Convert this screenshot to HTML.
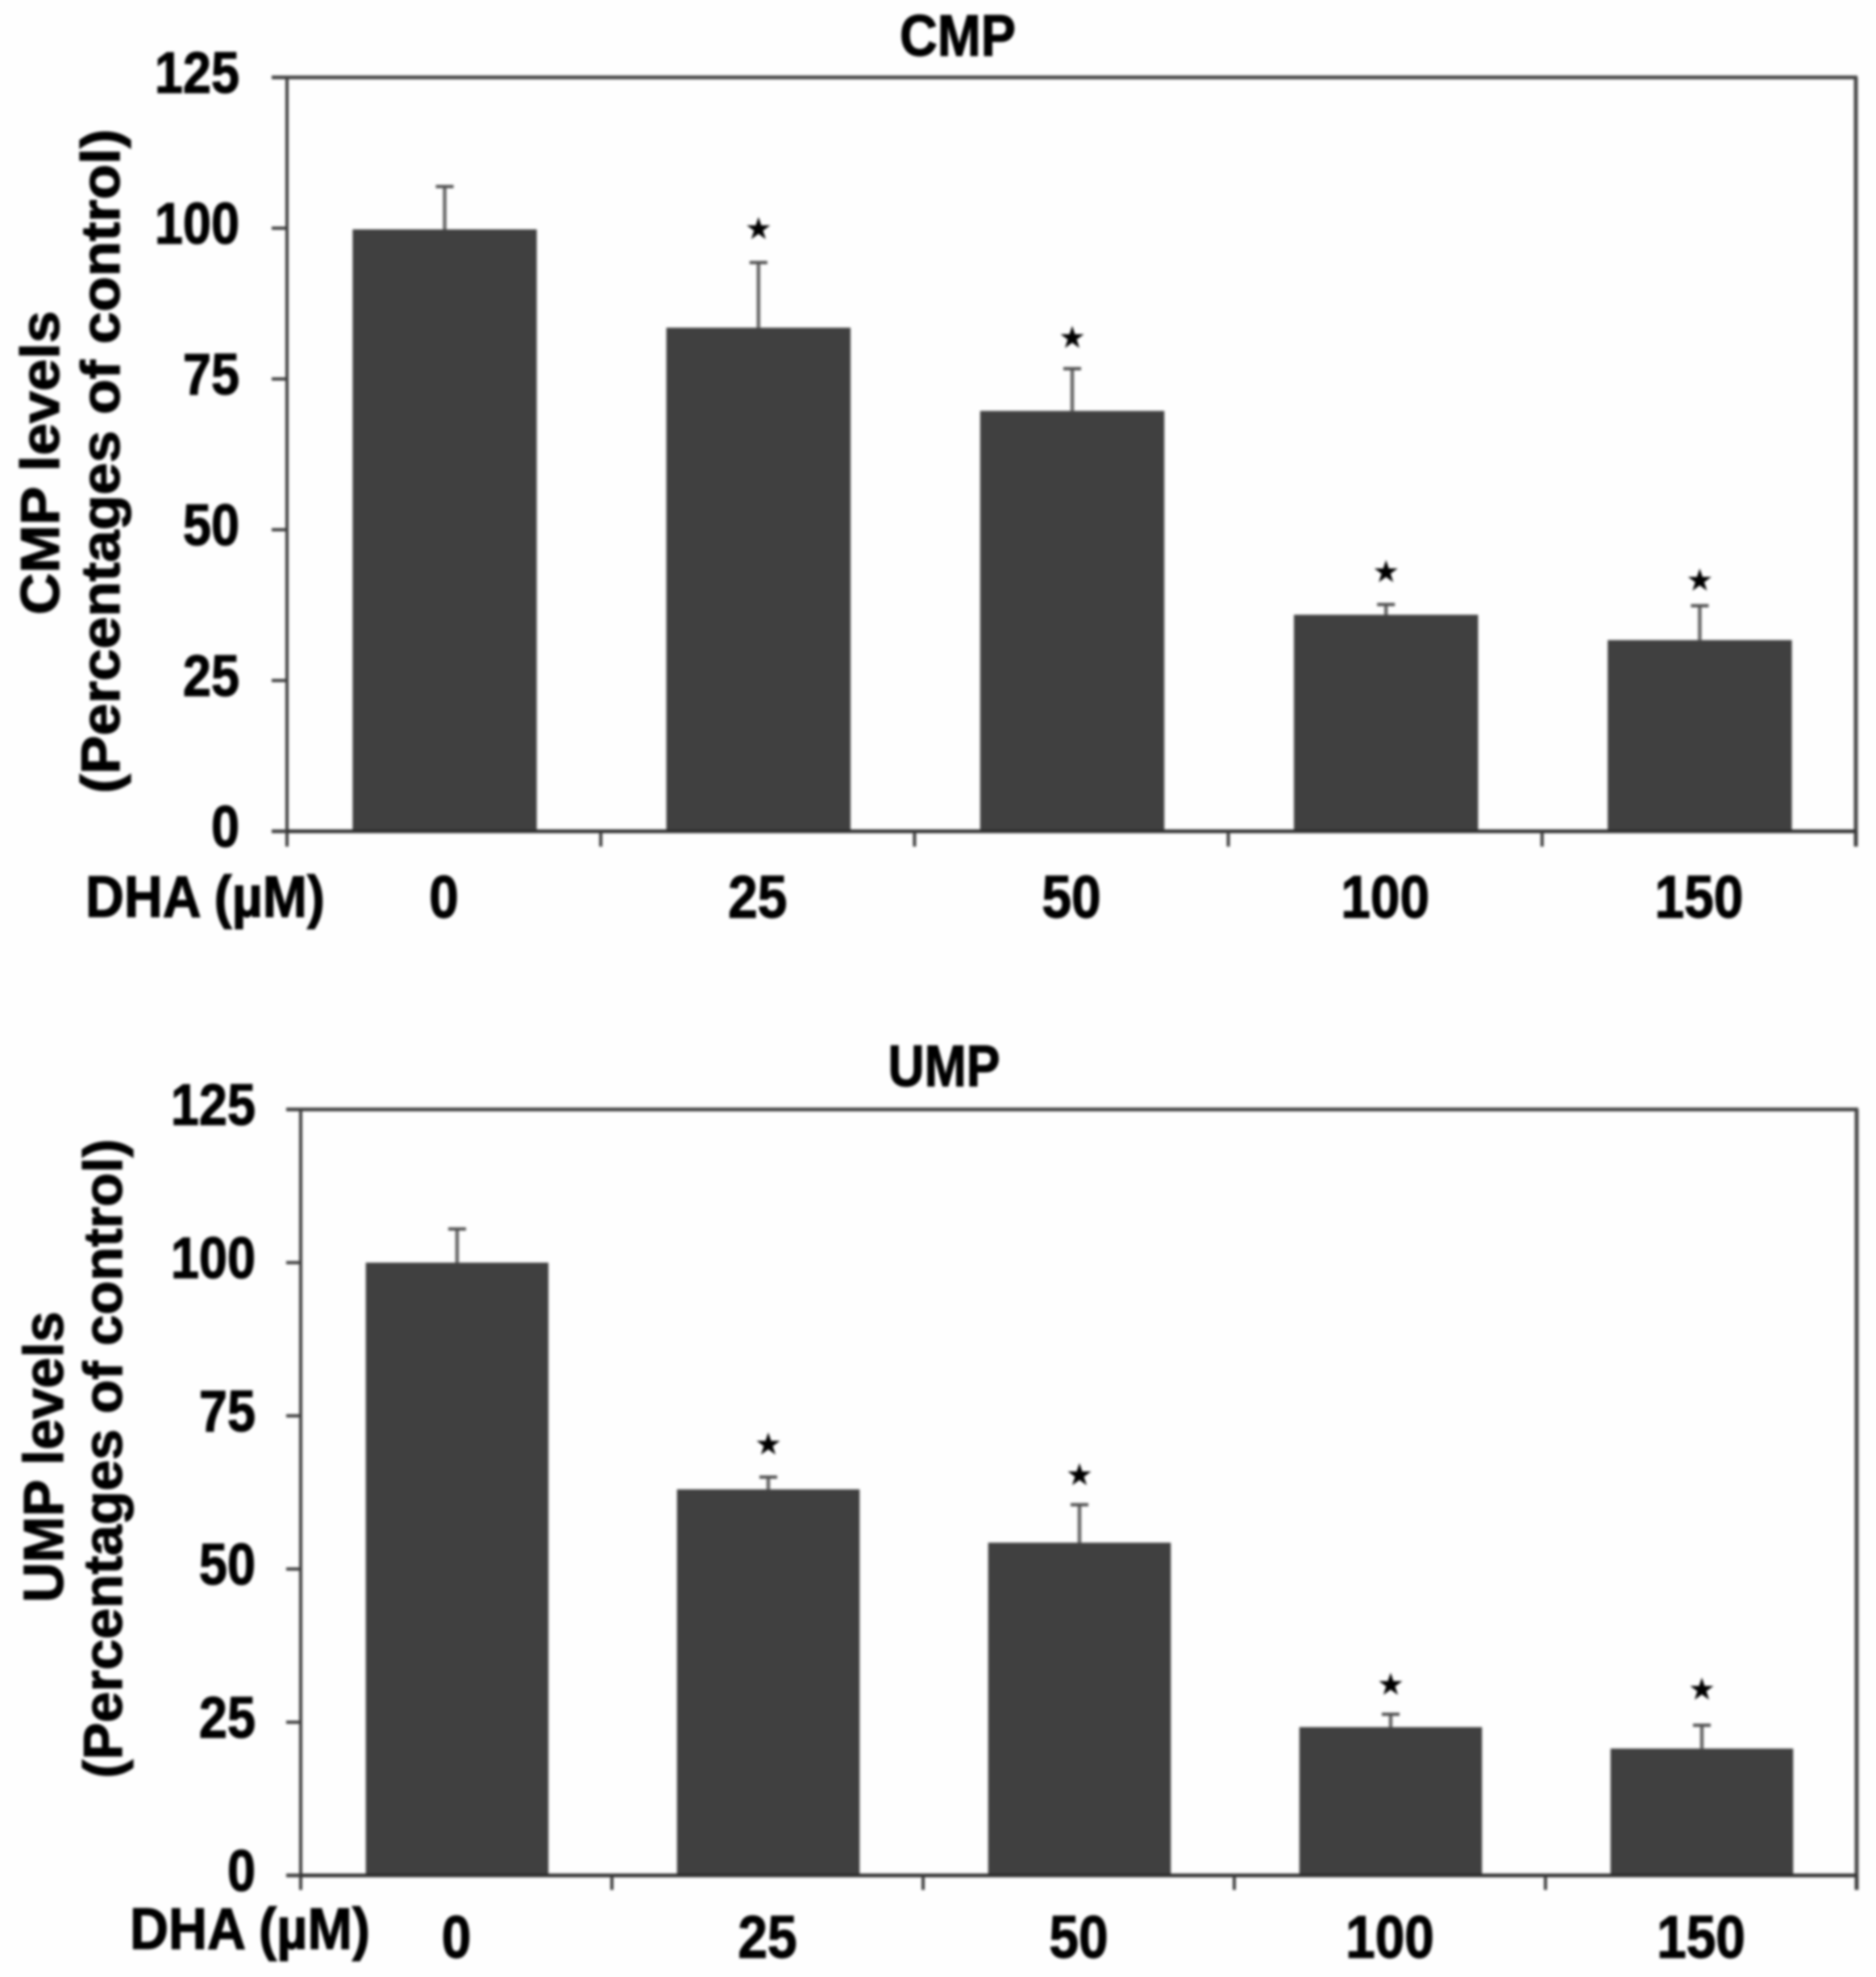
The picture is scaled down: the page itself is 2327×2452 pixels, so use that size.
<!DOCTYPE html>
<html lang="en">
<head>
<meta charset="utf-8">
<title>CMP and UMP levels after DHA treatment</title>
<style>
  html, body { margin: 0; padding: 0; background: #fefefe; }
  svg { display: block; }
  text { font-family: "Liberation Sans", sans-serif; font-weight: 700; fill: #000; stroke: #000; stroke-width: 1.2px; }
  .star { font-family: "DejaVu Sans", sans-serif; font-weight: 400; stroke-width: 1.5px; }
</style>
</head>
<body>
<svg id="figure" xmlns="http://www.w3.org/2000/svg" width="2327" height="2452" viewBox="0 0 2327 2452">
  <defs>
    <filter id="soften" filterUnits="userSpaceOnUse" x="0" y="0" width="2327" height="2452" color-interpolation-filters="sRGB">
      <feGaussianBlur stdDeviation="1.6"/>
    </filter>
  </defs>
  <rect x="0" y="0" width="2327" height="2452" fill="#fefefe"/>
  <g id="soft" filter="url(#soften)">
    <g id="cmp-chart">
      <text x="1188" y="69" font-size="72" text-anchor="middle" textLength="144" lengthAdjust="spacingAndGlyphs">CMP</text>
      <text transform="translate(73,574) rotate(-90)" font-size="68" text-anchor="middle" textLength="377" lengthAdjust="spacingAndGlyphs">CMP levels</text>
      <text transform="translate(148,572) rotate(-90)" font-size="68" text-anchor="middle" textLength="824" lengthAdjust="spacingAndGlyphs">(Percentages of control)</text>
      <text x="106" y="1137" font-size="72" textLength="297" lengthAdjust="spacingAndGlyphs">DHA (µM)</text>
    </g>
    <g id="ump-chart">
      <text x="1171" y="1347" font-size="72" text-anchor="middle" textLength="139" lengthAdjust="spacingAndGlyphs">UMP</text>
      <text transform="translate(78,1807) rotate(-90)" font-size="70" text-anchor="middle" textLength="361" lengthAdjust="spacingAndGlyphs">UMP levels</text>
      <text transform="translate(151,1809) rotate(-90)" font-size="68" text-anchor="middle" textLength="793" lengthAdjust="spacingAndGlyphs">(Percentages of control)</text>
      <text x="161" y="2417" font-size="72" textLength="298" lengthAdjust="spacingAndGlyphs">DHA (µM)</text>
    </g>
  </g>
</svg>
<script>
// Shared axis values
const categories = ['0', '25', '50', '100', '150'];
const yTickValues = [0, 25, 50, 75, 100, 125];

// CMP panel values (percent of control)
const cmpMeans = [99.8, 83.5, 69.7, 35.9, 31.7];
const cmpErrorTops = [106.9, 94.3, 76.7, 37.6, 37.4];
const cmpStarLevels = [null, 100.1, 82, 43.2, 41.8];

// UMP panel values (percent of control)
const umpMeans = [100, 63, 54.3, 24.2, 20.7];
const umpErrorTops = [105.5, 65, 60.5, 26.3, 24.5];
const umpStarLevels = [null, 70.5, 65.5, 31.3, 30.5];

const SVG_NS = 'http://www.w3.org/2000/svg';

function add(parent, tag, attrs, content) {
  const el = document.createElementNS(SVG_NS, tag);
  Object.keys(attrs).forEach(function (k) { el.setAttribute(k, attrs[k]); });
  if (content !== undefined) el.textContent = content;
  parent.appendChild(el);
  return el;
}

function drawChart(root, prefix, box, means, errorTops, starLevels) {
  const yMax = yTickValues[yTickValues.length - 1];
  const y = function (v) { return box.bottom - (v / yMax) * (box.bottom - box.top); };
  const step = (box.right - box.left) / categories.length;
  const xCenter = function (i) { return box.left + step * (i + 0.5) + box.barShift; };
  const barWidth = step * 0.587;
  const axisColor = '#3f3f3f';

  // Error bars
  categories.forEach(function (c, i) {
    const stem = add(root, 'line', { x1: xCenter(i), x2: xCenter(i), y1: y(means[i]), y2: y(errorTops[i]), stroke: '#666666', 'stroke-width': 4.5 });
    
    
    const cap = add(root, 'line', { x1: xCenter(i) - 11, x2: xCenter(i) + 11, y1: y(errorTops[i]), y2: y(errorTops[i]), stroke: '#505050', 'stroke-width': 4 });
    
    
  });

  // Bars
  categories.forEach(function (c, i) {
    const bar = add(root, 'rect', { x: xCenter(i) - barWidth / 2, y: y(means[i]), width: barWidth, height: y(0) - y(means[i]), fill: '#404040' });
    
    
  });

  // Significance stars
  categories.forEach(function (c, i) {
    if (starLevels[i] === null) return;
    const star = add(root, 'text', { x: xCenter(i), y: y(starLevels[i]) + 12, 'font-size': 32, 'text-anchor': 'middle', class: 'star' }, '★');
    
    
  });

  // Plot frame
  const frameTop = add(root, 'line', { x1: box.left - box.tick, x2: box.right + 2, y1: box.top, y2: box.top, stroke: axisColor, 'stroke-width': 4.5 });
  
  
  const frameRight = add(root, 'line', { x1: box.right, x2: box.right, y1: box.top, y2: box.bottom + box.tick, stroke: '#4a4a4a', 'stroke-width': 5 });
  
  
  const yAxis = add(root, 'line', { x1: box.left, x2: box.left, y1: box.top, y2: box.bottom + box.tick, stroke: axisColor, 'stroke-width': 4 });
  
  
  const xAxis = add(root, 'line', { x1: box.left - box.tick, x2: box.right, y1: box.bottom, y2: box.bottom, stroke: '#2e2e2e', 'stroke-width': 4.5 });
  
  

  // Y ticks and labels
  yTickValues.forEach(function (v) {
    const tick = add(root, 'line', { x1: box.left - box.tick, x2: box.left, y1: y(v), y2: y(v), stroke: axisColor, 'stroke-width': 4 });
    
    
    const label = add(root, 'text', { transform: 'translate(' + box.yLabelRight + ',' + (y(v) + 19) + ') scale(.875,1)', 'font-size': 72, 'text-anchor': 'end' }, String(v));
    
    
  });

  // X ticks and labels
  categories.forEach(function (c, i) {
    const tick = add(root, 'line', { x1: box.left + step * (i + 1), x2: box.left + step * (i + 1), y1: box.bottom, y2: box.bottom + box.tick, stroke: axisColor, 'stroke-width': 4 });
    
    
    const label = add(root, 'text', { transform: 'translate(' + (box.left + step * (i + 0.5)) + ',' + box.xLabelBaseline + ') scale(.89,1)', 'font-size': 74, 'text-anchor': 'middle' }, c);
    
    
  });
}

drawChart(document.getElementById('cmp-chart'), 'cmp',
  { left: 356, right: 2302, top: 96, bottom: 1031, tick: 19, yLabelRight: 297, xLabelBaseline: 1138, barShift: 1 },
  cmpMeans, cmpErrorTops, cmpStarLevels);

drawChart(document.getElementById('ump-chart'), 'ump',
  { left: 373, right: 2303, top: 1376, bottom: 2326, tick: 18, yLabelRight: 317, xLabelBaseline: 2428, barShift: 1 },
  umpMeans, umpErrorTops, umpStarLevels);
</script>
</body>
</html>
